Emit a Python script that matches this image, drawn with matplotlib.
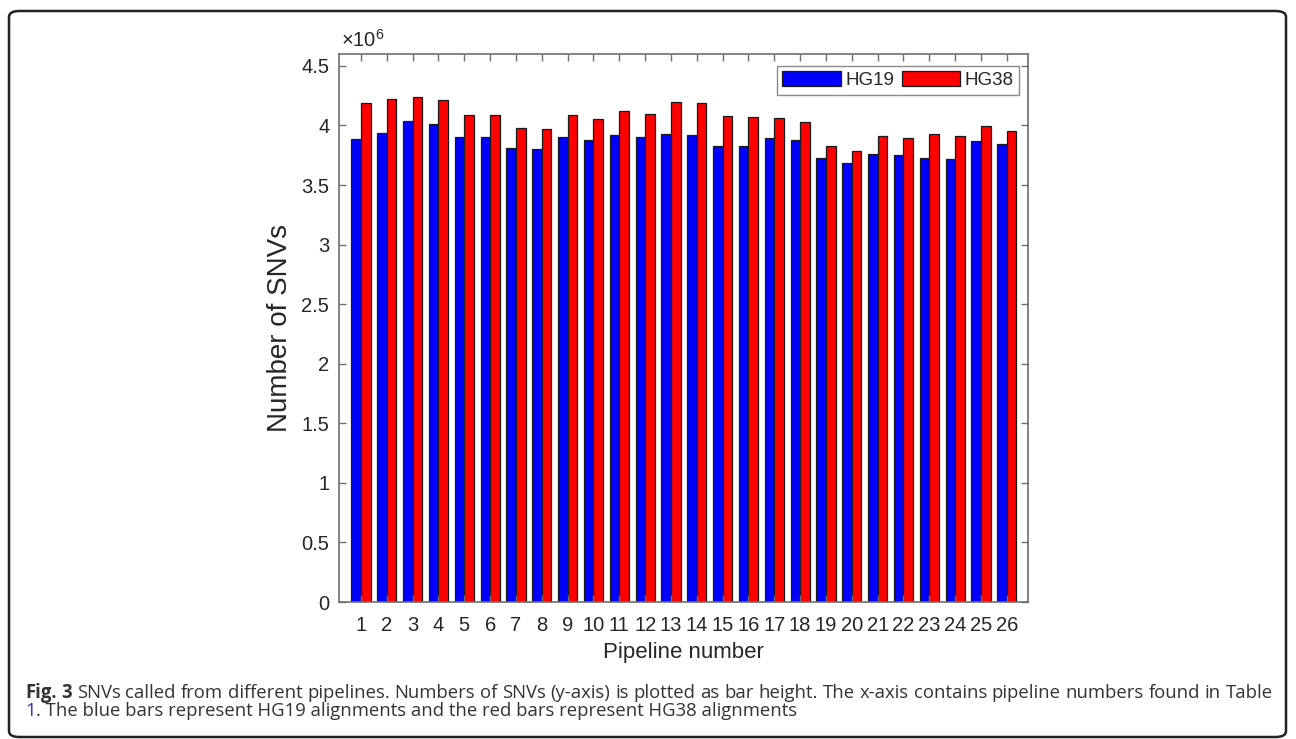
import matplotlib
matplotlib.use("Agg")
import matplotlib.pyplot as plt
import numpy as np
from matplotlib.patches import FancyBboxPatch

# ==========================================
# データ (図から読み取った値, 単位: 10^6)
# ==========================================
pipelines = list(range(1, 27))
hg19 = [3.885, 3.940, 4.041, 4.016, 3.904, 3.904, 3.812, 3.804, 3.902, 3.882,
        3.921, 3.904, 3.927, 3.924, 3.829, 3.826, 3.893, 3.876, 3.728, 3.689,
        3.764, 3.753, 3.725, 3.717, 3.873, 3.843]
hg38 = [4.187, 4.221, 4.243, 4.218, 4.089, 4.086, 3.982, 3.971, 4.089, 4.055,
        4.120, 4.100, 4.196, 4.187, 4.078, 4.067, 4.061, 4.028, 3.831, 3.784,
        3.913, 3.896, 3.929, 3.915, 3.997, 3.957]
series_names = ["HG19", "HG38"]
y_ticks = [0, 0.5, 1, 1.5, 2, 2.5, 3, 3.5, 4, 4.5]

caption_line1 = ("SNVs called from different pipelines. Numbers of SNVs (y-axis) is "
                 "plotted as bar height. The x-axis contains pipeline numbers found in Table")
caption_line2 = ". The blue bars represent HG19 alignments and the red bars represent HG38 alignments"

plt.rcParams['font.family'] = ['Liberation Sans', 'DejaVu Sans']
plt.rcParams['mathtext.default'] = 'regular'

W, H = 1296, 739
fig = plt.figure(figsize=(W / 100, H / 100), dpi=100)

# 外枠 (角丸)
frame = FancyBboxPatch((9 / W, 2 / H), (1286 - 9) / W, (728 - 2) / H,
                       boxstyle="round,pad=0,rounding_size=0.008",
                       transform=fig.transFigure, fill=False,
                       edgecolor='#222222', linewidth=1.8)
fig.patches.append(frame)

ax = fig.add_axes([339 / W, (H - 602) / H, (1028 - 339) / W, (602 - 54) / H])

x = np.array(pipelines, dtype=float)
bw = 0.37
axis_gray = '#6e6e6e'
ax.bar(x - bw / 2, hg19, width=bw, color='#0000ff', edgecolor='#1a1a1a',
       linewidth=0.9, label=series_names[0])
ax.bar(x + bw / 2, hg38, width=bw, color='#ff0000', edgecolor='#1a1a1a',
       linewidth=0.9, label=series_names[1])

ax.set_xlim(0.15, 26.82)
ax.set_ylim(0, 4.6)
ax.set_xticks(pipelines)
ax.set_xticklabels([str(p) for p in pipelines])
ax.set_yticks(y_ticks)
ax.set_yticklabels([f"{t:g}" for t in y_ticks])

for s in ax.spines.values():
    s.set_color(axis_gray)
    s.set_linewidth(1.2)
ax.tick_params(direction='in', length=5, width=1, color=axis_gray,
               top=True, right=True, labelsize=14.5, labelcolor='#262626')
ax.tick_params(axis='x', pad=10)
ax.tick_params(axis='y', pad=7)

ax.set_xlabel("Pipeline number", fontsize=16, color='#262626', labelpad=5)
ax.set_ylabel("Number of SNVs", fontsize=20, color='#262626', labelpad=6)
ax.text(0.003, 1.006, r"×10$^{6}$", transform=ax.transAxes, fontsize=14.5,
        color='#262626', ha='left', va='bottom')

leg = ax.legend(loc='upper right', bbox_to_anchor=(0.987, 0.979), ncol=2,
                fontsize=13.5, frameon=True, fancybox=False, borderaxespad=0,
                handlelength=3.1, handleheight=0.85, handletextpad=0.25,
                columnspacing=0.4, borderpad=0.3)
leg.get_frame().set_edgecolor(axis_gray)
leg.get_frame().set_linewidth(1.0)
for t in leg.get_texts():
    t.set_color('#262626')

# ==========================================
# キャプション (1行目は両端揃え)
# ==========================================
cap_font = ['Open Sans', 'DejaVu Sans']
cap_color = '#333333'
renderer = fig.canvas.get_renderer()
x0, x1 = 25, 1273

# 1行目が自然な字間で収まるサイズを求める
probe = fig.text(0, 0, "Fig. 3 " + caption_line1, fontsize=13, family=cap_font)
natural = probe.get_window_extent(renderer).width
probe.remove()
cap_size = min(14.3, 13 * (x1 - x0) / natural * 0.995)

words = [("Fig.", 'bold'), ("3", 'bold')] + [(w, 'normal') for w in caption_line1.split()]
texts = []
total_w = 0
for w, weight in words:
    t = fig.text(0, 0, w, fontsize=cap_size, family=cap_font, weight=weight,
                 color=cap_color, va='baseline', ha='left')
    bb = t.get_window_extent(renderer)
    texts.append((t, bb.width))
    total_w += bb.width
gap = (x1 - x0 - total_w) / (len(words) - 1)
cx = x0
y1 = (H - 698) / H
for t, wd in texts:
    t.set_position((cx / W, y1))
    cx += wd + gap

y2 = (H - 716) / H
t1 = fig.text(25 / W, y2, "1", fontsize=cap_size, family=cap_font,
              color='#2a3cc8', va='baseline', ha='left')
w1 = t1.get_window_extent(renderer).width
fig.text((25 + w1) / W, y2, caption_line2, fontsize=cap_size, family=cap_font,
         color=cap_color, va='baseline', ha='left')

fig.savefig("out.png", dpi=100)
